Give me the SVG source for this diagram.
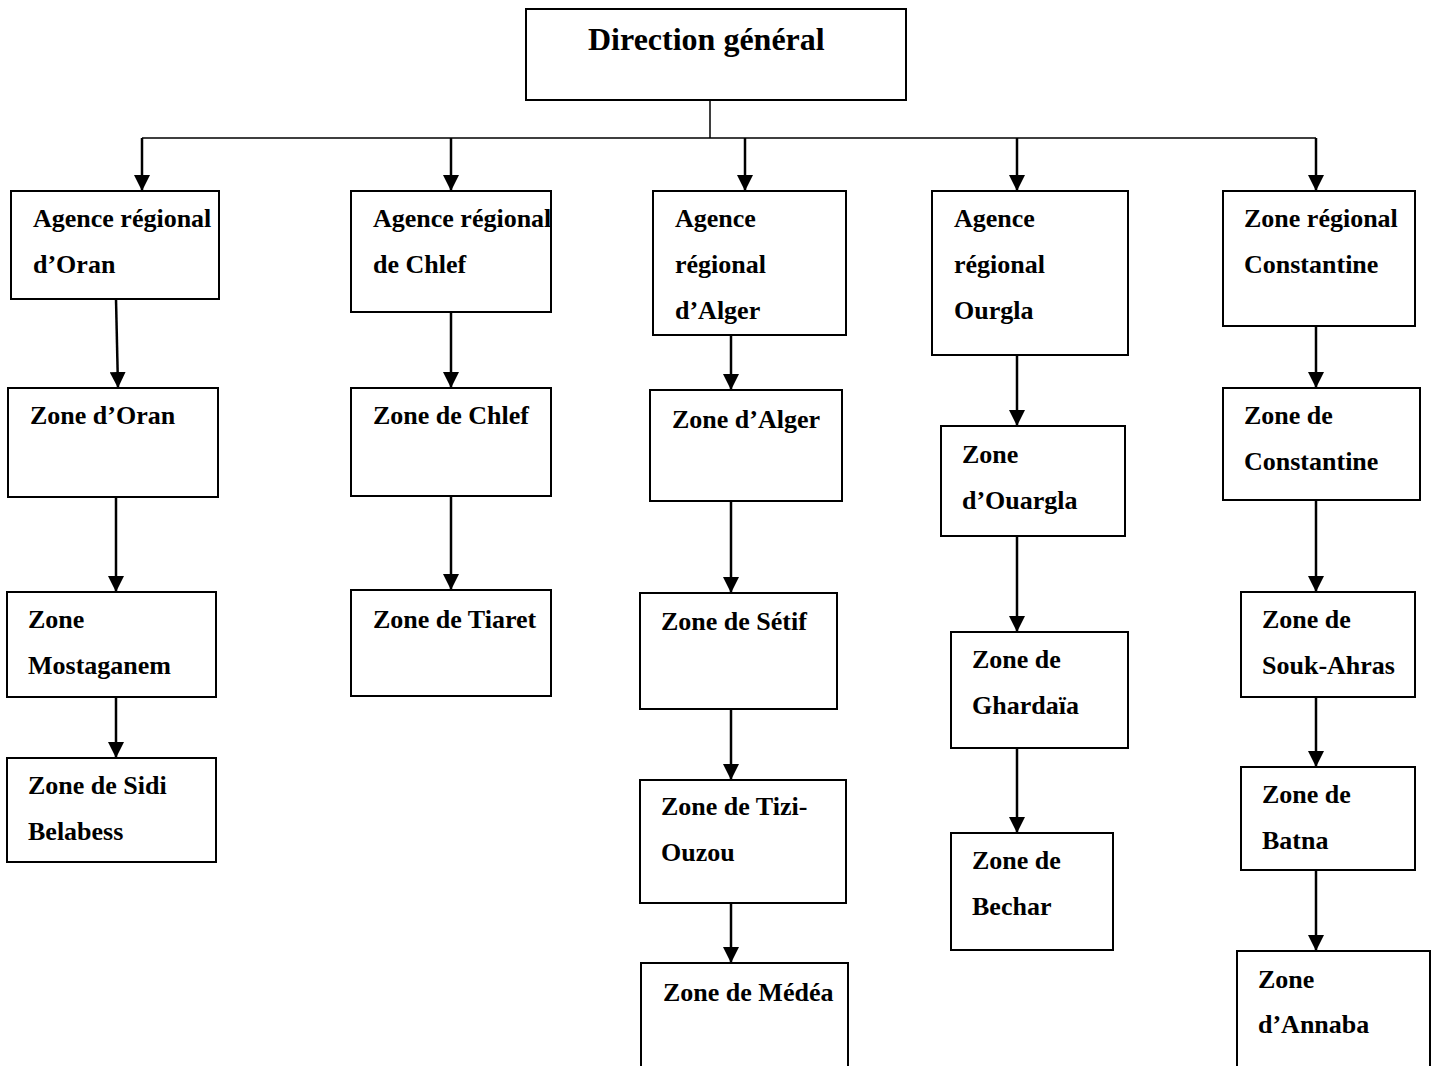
<svg xmlns="http://www.w3.org/2000/svg" width="1437" height="1066" viewBox="0 0 1437 1066">
<style>
rect.box{fill:#fff;stroke:#000;stroke-width:2}
text{font-family:"Liberation Serif","Times New Roman",serif;font-weight:bold;font-size:26px;fill:#000}
text.title{font-size:32px}
.arr{stroke:#000;stroke-width:2.5;fill:none;marker-end:url(#ah)}
.bus{stroke:#000;stroke-width:1.5;fill:none}
</style>
<defs>
<marker id="ah" markerUnits="userSpaceOnUse" markerWidth="16" markerHeight="16" viewBox="0 0 16 16" refX="16" refY="8" orient="auto">
<path d="M0,0 L16,8 L0,16 Z" fill="#000"/>
</marker>
</defs>
<rect width="1437" height="1066" fill="#fff"/>
<g id="connectors">
<path class="bus" d="M710,100 V138 M142,138 H1316"/>
<path class="arr" d="M142,138 V191"/>
<path class="arr" d="M451,138 V191"/>
<path class="arr" d="M745,138 V191"/>
<path class="arr" d="M1017,138 V191"/>
<path class="arr" d="M1316,138 V191"/>
<path class="arr" d="M116,299 L118,388"/>
<path class="arr" d="M116,497 V592"/>
<path class="arr" d="M116,697 V758"/>
<path class="arr" d="M451,312 V388"/>
<path class="arr" d="M451,496 V590"/>
<path class="arr" d="M731,335 V390"/>
<path class="arr" d="M731,501 V593"/>
<path class="arr" d="M731,709 V780"/>
<path class="arr" d="M731,903 V963"/>
<path class="arr" d="M1017,355 V426"/>
<path class="arr" d="M1017,536 V632"/>
<path class="arr" d="M1017,748 V833"/>
<path class="arr" d="M1316,326 V388"/>
<path class="arr" d="M1316,500 V592"/>
<path class="arr" d="M1316,697 V767"/>
<path class="arr" d="M1316,870 V951"/>
</g>
<g id="direction"><rect class="box" x="526" y="9" width="380" height="91"/><text class="title" x="588" y="50">Direction général</text></g>
<g id="ag-oran"><rect class="box" x="11" y="191" width="208" height="108"/><text x="33" y="227">Agence régional</text><text x="33" y="273">d’Oran</text></g>
<g id="ag-chlef"><rect class="box" x="351" y="191" width="200" height="121"/><text x="373" y="227">Agence régional</text><text x="373" y="273">de Chlef</text></g>
<g id="ag-alger"><rect class="box" x="653" y="191" width="193" height="144"/><text x="675" y="227">Agence</text><text x="675" y="273">régional</text><text x="675" y="319">d’Alger</text></g>
<g id="ag-ourgla"><rect class="box" x="932" y="191" width="196" height="164"/><text x="954" y="227">Agence</text><text x="954" y="273">régional</text><text x="954" y="319">Ourgla</text></g>
<g id="zr-constantine"><rect class="box" x="1223" y="191" width="192" height="135"/><text x="1244" y="227">Zone régional</text><text x="1244" y="273">Constantine</text></g>
<g id="z-oran"><rect class="box" x="8" y="388" width="210" height="109"/><text x="30" y="424">Zone d’Oran</text></g>
<g id="z-mostaganem"><rect class="box" x="7" y="592" width="209" height="105"/><text x="28" y="628">Zone</text><text x="28" y="674">Mostaganem</text></g>
<g id="z-sidi"><rect class="box" x="7" y="758" width="209" height="104"/><text x="28" y="794">Zone de Sidi</text><text x="28" y="840">Belabess</text></g>
<g id="z-chlef"><rect class="box" x="351" y="388" width="200" height="108"/><text x="373" y="424">Zone de Chlef</text></g>
<g id="z-tiaret"><rect class="box" x="351" y="590" width="200" height="106"/><text x="373" y="628">Zone de Tiaret</text></g>
<g id="z-alger"><rect class="box" x="650" y="390" width="192" height="111"/><text x="672" y="428">Zone d’Alger</text></g>
<g id="z-setif"><rect class="box" x="640" y="593" width="197" height="116"/><text x="661" y="630">Zone de Sétif</text></g>
<g id="z-tizi"><rect class="box" x="640" y="780" width="206" height="123"/><text x="661" y="815">Zone de Tizi-</text><text x="661" y="861">Ouzou</text></g>
<g id="z-medea"><rect class="box" x="641" y="963" width="207" height="120"/><text x="663" y="1001">Zone de Médéa</text></g>
<g id="z-ouargla"><rect class="box" x="941" y="426" width="184" height="110"/><text x="962" y="463">Zone</text><text x="962" y="509">d’Ouargla</text></g>
<g id="z-ghardaia"><rect class="box" x="951" y="632" width="177" height="116"/><text x="972" y="668">Zone de</text><text x="972" y="714">Ghardaïa</text></g>
<g id="z-bechar"><rect class="box" x="951" y="833" width="162" height="117"/><text x="972" y="869">Zone de</text><text x="972" y="915">Bechar</text></g>
<g id="z-constantine"><rect class="box" x="1223" y="388" width="197" height="112"/><text x="1244" y="424">Zone de</text><text x="1244" y="470">Constantine</text></g>
<g id="z-soukahras"><rect class="box" x="1241" y="592" width="174" height="105"/><text x="1262" y="628">Zone de</text><text x="1262" y="674">Souk-Ahras</text></g>
<g id="z-batna"><rect class="box" x="1241" y="767" width="174" height="103"/><text x="1262" y="803">Zone de</text><text x="1262" y="849">Batna</text></g>
<g id="z-annaba"><rect class="box" x="1237" y="951" width="193" height="132"/><text x="1258" y="988">Zone</text><text x="1258" y="1033">d’Annaba</text></g>
</svg>
